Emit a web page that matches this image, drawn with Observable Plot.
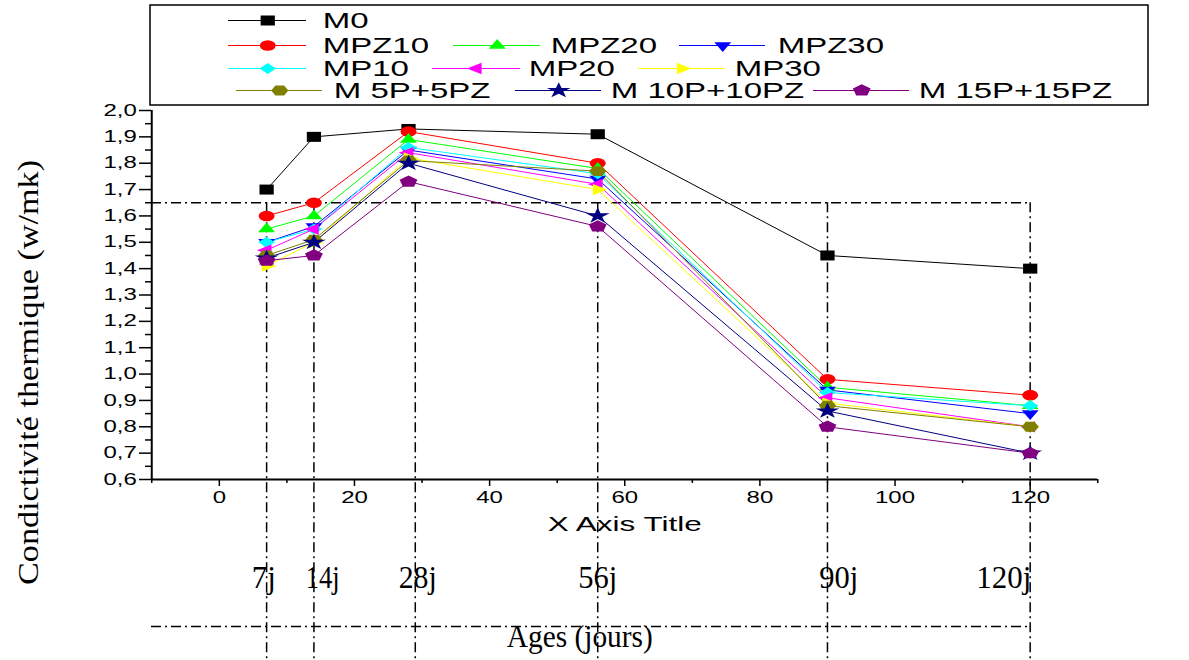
<!DOCTYPE html>
<html><head><meta charset="utf-8">
<script src="https://cdn.jsdelivr.net/npm/d3@7"></script>
<script src="https://cdn.jsdelivr.net/npm/@observablehq/plot@0.6"></script>
<style>
body{margin:0;background:#fff;}
#wrap{position:relative;width:1189px;height:660px;overflow:hidden;background:#fff;}
#wrap svg{position:absolute;left:0;top:0;}
</style></head><body><div id="wrap"></div>
<script>
// ---------- data ----------
const ages = [7, 14, 28, 56, 90, 120];
const seriesNames = ["M0", "MPZ10", "MPZ20", "MPZ30", "MP10", "MP20", "MP30", "M 5P+5PZ", "M 10P+10PZ", "M 15P+15PZ"];
const vM0      = [1.70, 1.90, 1.93, 1.91, 1.45, 1.40];
const vMPZ10   = [1.60, 1.65, 1.92, 1.80, 0.98, 0.92];
const vMPZ20   = [1.55, 1.60, 1.89, 1.78, 0.95, 0.88];
const vMPZ30   = [1.50, 1.56, 1.85, 1.74, 0.94, 0.85];
const vMP10    = [1.50, 1.55, 1.86, 1.76, 0.93, 0.88];
const vMP20    = [1.47, 1.55, 1.84, 1.72, 0.91, 0.80];
const vMP30    = [1.41, 1.50, 1.82, 1.70, 0.89, 0.80];
const vM5P5PZ  = [1.45, 1.51, 1.81, 1.77, 0.88, 0.80];
const vM10P10PZ= [1.44, 1.50, 1.80, 1.60, 0.86, 0.70];
const vM15P15PZ= [1.43, 1.45, 1.73, 1.56, 0.80, 0.70];
const seriesValues = [vM0, vMPZ10, vMPZ20, vMPZ30, vMP10, vMP20, vMP30, vM5P5PZ, vM10P10PZ, vM15P15PZ];
const seriesColors = ["#000000", "#ff0000", "#00ff00", "#0000ff", "#00ffff", "#ff00ff", "#ffff00", "#808000", "#000080", "#800080"];

const yTicks = [0.6, 0.7, 0.8, 0.9, 1.0, 1.1, 1.2, 1.3, 1.4, 1.5, 1.6, 1.7, 1.8, 1.9, 2.0];
const yMinorTicks = [0.65, 0.75, 0.85, 0.95, 1.05, 1.15, 1.25, 1.35, 1.45, 1.55, 1.65, 1.75, 1.85, 1.95];
const xTicks = [0, 20, 40, 60, 80, 100, 120];
const xMinorTicks = [-10, 10, 30, 50, 70, 90, 110, 130];
const refLevel = 1.65;
const ageLines = [7, 14, 29, 56, 90, 120];
const ageLabels = ["7j", "14j", "28j", "56j", "90j", "120j"];

// ---------- layout ----------
const W = 1189, H = 660, S = 1.5;       // horizontal stretch of the whole picture
const WV = W / S;
const SANS = "'Liberation Sans', Arial, sans-serif";
const SERIF = "'Liberation Serif', 'Times New Roman', serif";

function poly(n, a0, k) {
  return {draw(ctx, size) {
    const R = Math.sqrt(size / Math.PI) * k;
    for (let i = 0; i < n; i++) {
      const a = a0 + i * 2 * Math.PI / n;
      const x = R * Math.cos(a), y = R * Math.sin(a);
      if (i) ctx.lineTo(x, y); else ctx.moveTo(x, y);
    }
    ctx.closePath();
  }};
}
const squareSym = {draw(ctx, size) { const h = Math.sqrt(size / Math.PI); ctx.rect(-h * 0.95, -h, h * 1.9, h * 2); }};
const PI = Math.PI;
const symbols = [squareSym, "circle", poly(3, -PI / 2, 1.3), poly(3, PI / 2, 1.3), poly(4, -PI / 2, 1.1),
  poly(3, PI, 1.3), poly(3, 0, 1.3), poly(6, 0, 1.15), "star", poly(5, -PI / 2, 1.2)];
const symR = [5, 5.3, 5, 5, 5, 5, 5, 5, 5, 5.2];

const rows = seriesNames.flatMap((name, i) => ages.map((a, j) => ({series: name, age: a, value: seriesValues[i][j]})));

const lineMarks = seriesNames.map((name, i) =>
  Plot.line(rows.filter(d => d.series === name), {x: "age", y: "value", stroke: seriesColors[i], strokeWidth: 1}));
const dotMarks = seriesNames.map((name, i) =>
  Plot.dot(rows.filter(d => d.series === name), {x: "age", y: "value", fill: seriesColors[i], symbol: symbols[i], r: symR[i]}));

const dash = "10,4,2,4";
const fmt = d => d.toFixed(1).replace(".", ",");

const main = Plot.plot({
  width: WV, height: H,
  marginLeft: 151 / S, marginRight: WV - 1097 / S, marginTop: 110, marginBottom: H - 479,
  x: {domain: [-10, 130]},
  y: {domain: [0.6, 2.0]},
  style: {fontFamily: SANS, fontSize: "16px", background: "transparent", color: "black"},
  marks: [
    Plot.ruleY([refLevel], {x1: -10, x2: 120, stroke: "black", strokeWidth: 1.5, strokeDasharray: dash}),
    Plot.ruleX(ageLines, {y1: refLevel, y2: -0.2, stroke: "black", strokeWidth: 1.5, strokeDasharray: dash}),
    Plot.ruleY([0.6], {x1: -10, x2: 120, dy: 147, stroke: "black", strokeWidth: 1.5, strokeDasharray: dash}),
    Plot.axisY(yTicks, {tickSize: 8, tickPadding: 2, tickFormat: fmt, label: null, strokeWidth: 1.5, fontSize: 16}),
    Plot.axisY(yMinorTicks, {tickSize: 4, tickFormat: () => "", label: null, strokeWidth: 1.5}),
    Plot.axisX(xTicks, {tickSize: 7, tickPadding: 5, label: null, strokeWidth: 1.5, fontSize: 16}),
    Plot.axisX(xMinorTicks, {tickSize: 4, tickFormat: () => "", label: null, strokeWidth: 1.5}),
    Plot.ruleX([-10], {y1: 0.6, y2: 2.0, stroke: "black", strokeWidth: 2}),
    Plot.ruleY([0.6], {x1: -10, x2: 130, stroke: "black", strokeWidth: 2}),
    ...lineMarks,
    ...dotMarks
  ]
});

// legend layout (screen pixels)
const legendRow = [0, 1, 1, 1, 2, 2, 2, 3, 3, 3];
const legendRowY = [20, 45, 68, 90];
const legendX1 = [228, 228, 453, 679, 228, 432, 638, 236, 515, 813];
const legendX2 = [306, 306, 540, 765, 306, 520, 724, 322, 601, 909];
const legendTX = [322, 322, 550, 777, 322, 528, 734, 333, 610, 918];
const legend = seriesNames.map((name, i) => ({
  name, color: seriesColors[i], y: legendRowY[legendRow[i]],
  x1: legendX1[i] / S, x2: legendX2[i] / S, xm: (legendX1[i] + legendX2[i]) / 2 / S, xt: legendTX[i] / S
}));

const textLen = new Map([
  ["7j", 24], ["14j", 34], ["28j", 38], ["56j", 39], ["90j", 39], ["120j", 55],
  ["Ages (jours)", 146]
]);
const ageLabelX = [263, 322, 417, 597, 838, 1003];

const overlay = Plot.plot({
  width: WV, height: H, margin: 0,
  x: {type: "identity", axis: null}, y: {type: "identity", axis: null},
  style: {background: "transparent", color: "black"},
  marks: [
    Plot.rect([0], {x1: 150 / S, x2: 1148 / S, y1: 5, y2: 105, fill: "none", stroke: "black", strokeWidth: 1.5}),
    Plot.ruleY(legend, {y: "y", x1: "x1", x2: "x2", stroke: "color", strokeWidth: 1}),
    ...legend.map((d, i) => Plot.dot([d], {x: "xm", y: "y", fill: d.color, symbol: symbols[i], r: symR[i]})),
    Plot.text(legend, {x: "xt", y: "y", text: "name", textAnchor: "start", fontFamily: SANS, fontSize: 22, fill: "black"}),
    Plot.text(["X Axis Title"], {x: 624 / S, y: 524, fontFamily: SANS, fontSize: 21, fill: "black"}),
    Plot.text(ageLabels, {x: (d, i) => ageLabelX[i] / S, y: 578, text: d => d, fontFamily: SERIF, fontSize: 31, fill: "black"}),
    Plot.text(["Ages (jours)"], {x: 579 / S, y: 637, fontFamily: SERIF, fontSize: 31, fill: "black"}),
    Plot.text(["Condictivité thermique (w/mk)"], {x: 28 / S, y: 372, rotate: -90, fontFamily: SERIF, fontSize: 19, fill: "black"})
  ]
});

for (const svg of [main, overlay]) {
  svg.setAttribute("width", W);
  svg.setAttribute("height", H);
  svg.setAttribute("viewBox", `0 0 ${WV} ${H}`);
  svg.setAttribute("preserveAspectRatio", "none");
  d3.select(svg).selectAll("line, path, rect").attr("vector-effect", "non-scaling-stroke");
  document.getElementById("wrap").appendChild(svg);
}
d3.select(overlay).selectAll("text").each(function() {
  const t = this.textContent;
  if (textLen.has(t)) {
    this.setAttribute("textLength", textLen.get(t) / S);
    this.setAttribute("lengthAdjust", "spacingAndGlyphs");
  } else if (t.startsWith("Condictivit")) {
    this.setAttribute("textLength", 425);
    this.setAttribute("lengthAdjust", "spacingAndGlyphs");
  }
});
</script></body></html>
